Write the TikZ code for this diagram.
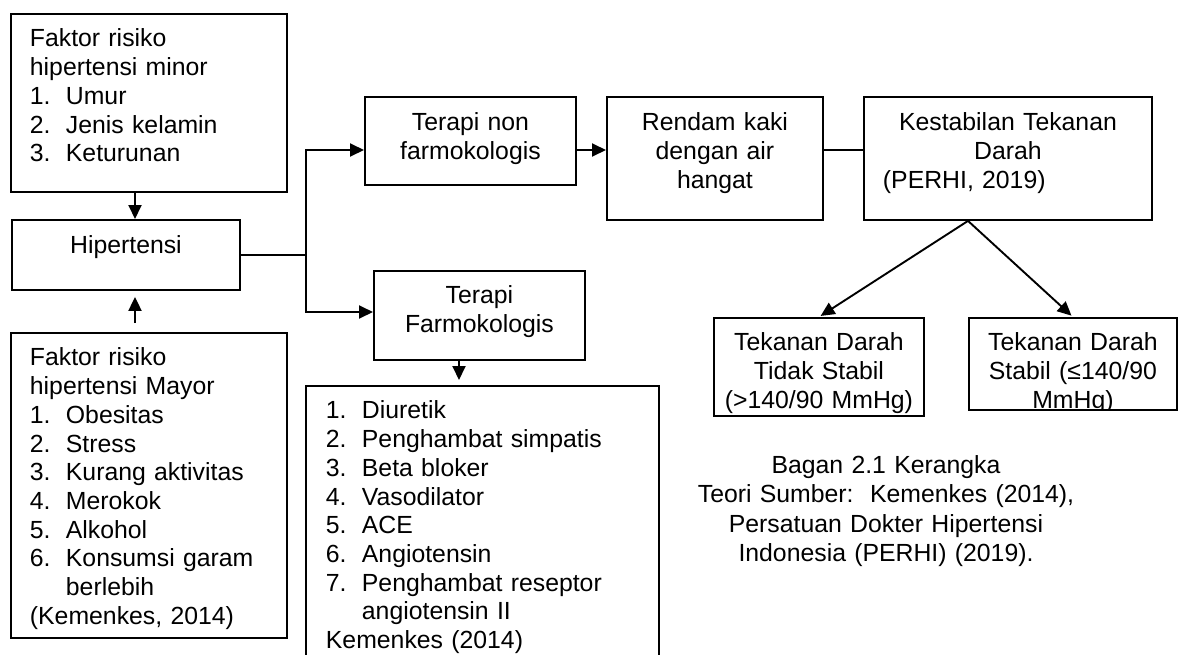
\documentclass[tikz,border=0pt]{standalone}
\usepackage{fontspec}
\setmainfont{Liberation Sans}
\usetikzlibrary{arrows.meta}

\newcommand{\fsz}{\fontsize{24.8}{28.7}\selectfont}
\newcommand{\nom}[1]{\makebox[36pt][l]{#1.}}

\begin{document}
\begin{tikzpicture}[x=1pt, y=-1pt,
    kotak/.style={draw, line width=1.9pt, anchor=north west, inner ysep=0pt, font=\fsz},
    tengah/.style={kotak, inner xsep=0pt, align=center},
    daftar/.style={kotak, inner xsep=19pt, align=left},
    garis/.style={line width=1.9pt},
    panah/.style={garis, -{Triangle[length=14pt, width=13pt]}}]
  \useasboundingbox (0,0) rectangle (1178,654);
  \clip (0,0) rectangle (1178,654);

  % kolom kiri
  \node[daftar, text width=238pt, text height=33pt, text depth=145pt] (minor) at (10,13)
    {Faktor risiko\\ hipertensi minor\\ \nom{1}Umur\\ \nom{2}Jenis kelamin\\ \nom{3}Keturunan};
  \node[tengah, text width=228pt, text height=34pt, text depth=36pt] (hip) at (11,219) {Hipertensi};
  \node[daftar, text width=238pt, text height=33pt, text depth=272pt] (mayor) at (10,332)
    {Faktor risiko\\ hipertensi Mayor\\ \nom{1}Obesitas\\ \nom{2}Stress\\ \nom{3}Kurang aktivitas\\
     \nom{4}Merokok\\ \nom{5}Alkohol\\ \nom{6}Konsumsi garam\\ \hspace*{36pt}berlebih\\ (Kemenkes, 2014)};

  % terapi
  \node[tengah, text width=211pt, text height=34pt, text depth=54pt] (tnon) at (364,96) {Terapi non\\ farmokologis};
  \node[tengah, text width=211pt, text height=33pt, text depth=56pt] (farmo) at (373,270) {Terapi\\ Farmokologis};
  \node[daftar, inner xsep=20pt, text width=313pt, text height=33pt, text depth=300pt] (obat) at (305,385)
    {\nom{1}Diuretik\\ \nom{2}Penghambat simpatis\\ \nom{3}Beta bloker\\ \nom{4}Vasodilator\\ \nom{5}ACE\\
     \nom{6}Angiotensin\\ \nom{7}Penghambat reseptor\\ \hspace*{36pt}angiotensin II\\ Kemenkes (2014)};

  % kanan
  \node[tengah, text width=216pt, text height=34pt, text depth=89pt] (rendam) at (606,96) {Rendam kaki\\ dengan air\\ hangat};
  \node[tengah, text width=288pt, text height=34pt, text depth=89pt] (kest) at (863,96)
    {Kestabilan Tekanan\\ Darah\\ \makebox[\linewidth][l]{\hspace*{19pt}(PERHI, 2019)}};
  \node[tengah, text width=210pt, text height=33pt, text depth=65pt] (tds) at (713,317)
    {Tekanan Darah\\ Tidak Stabil\\ (>140/90 MmHg)};
  \begin{scope}
    \clip (960,310) rectangle (1178,410.2);
    \node[tengah, text width=208pt, text height=33pt, text depth=59pt] (ts) at (968,317)
      {Tekanan Darah\\ Stabil (≤140/90\\ MmHg)};
  \end{scope}

  \node[font=\fontsize{24.8}{29.5}\selectfont, text width=420pt, align=center, anchor=base, inner sep=0pt] (bagan) at (886,473)
    {Bagan 2.1 Kerangka\hspace*{64pt}\\ Teori Sumber:\ \ Kemenkes (2014),\\ Persatuan Dokter Hipertensi\\ Indonesia (PERHI) (2019).};

  % titik bantu
  \coordinate (colA) at (135,0);
  \coordinate (colB) at (459,0);
  \coordinate (trunk) at (306,0);
  \coordinate (forkx) at (968,0);
  \coordinate (rowA) at (0,150);
  \coordinate (rowB) at (0,312);

  \draw[panah] (minor.south -| colA) -- (hip.north -| colA);
  \draw[panah] ([yshift=9pt]mayor.north -| colA) -- ([yshift=-6pt]hip.south -| colA);
  \draw[panah] (hip.east) -- (hip.east -| trunk) |- (tnon.west |- rowA);
  \draw[panah] (hip.east -| trunk) |- (farmo.west |- rowB);
  \draw[panah] (farmo.south -| colB) -- ([yshift=5pt]obat.north -| colB);
  \draw[panah] (tnon.east |- rowA) -- (rendam.west |- rowA);
  \draw[garis] (rendam.east |- rowA) -- (kest.west |- rowA);
  \draw[panah, shorten >=2pt] (kest.south -| forkx) -- (tds.north);
  \draw[panah, shorten >=2pt] (kest.south -| forkx) -- (ts.north);
\end{tikzpicture}
\end{document}
